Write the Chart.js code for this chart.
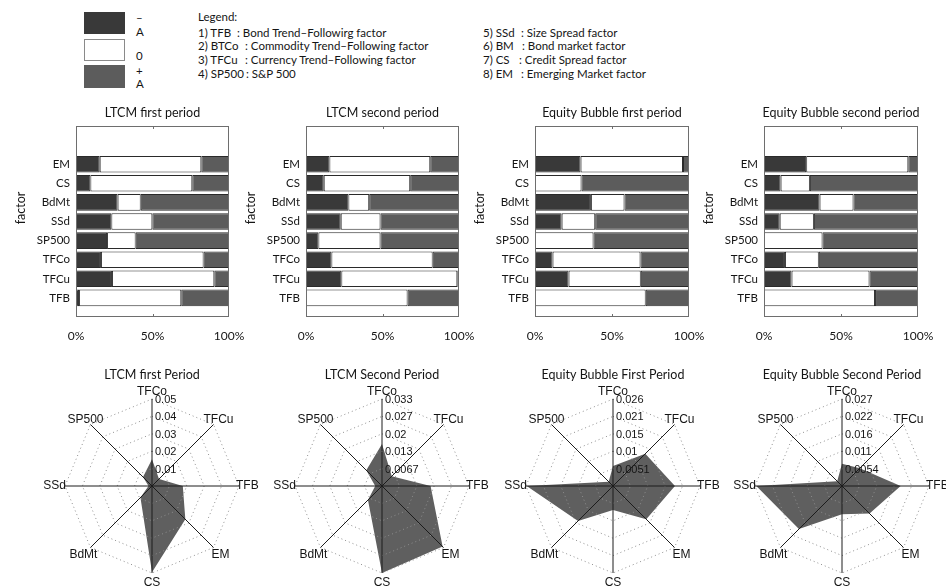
<!DOCTYPE html>
<html>
<head>
<meta charset="utf-8">
<script src="https://cdn.jsdelivr.net/npm/chart.js@4/dist/chart.umd.min.js"></script>
<style>
  html, body { margin: 0; padding: 0; background: #fff; overflow: hidden; }
  body { width: 946px; height: 587px; position: relative; font-family: Lato, sans-serif; color: #151515; }
  canvas { position: absolute; }
  .sw { position: absolute; box-sizing: border-box; left: 84px; width: 41px; }
  .t { position: absolute; font: 11.5px Lato, sans-serif; white-space: pre; line-height: 12px; transform: translateY(-50%); }
</style>
</head>
<body>
<div class="sw" style="top:12px;height:22px;background:#393939;"></div>
<div class="sw" style="top:39px;height:22px;background:#fff;border:1px solid #8a8a8a;"></div>
<div class="sw" style="top:65px;height:23px;background:#5c5c5c;"></div>
<div id="legend"></div>

<canvas id="bar0" width="254" height="250"></canvas>
<canvas id="bar1" width="254" height="250"></canvas>
<canvas id="bar2" width="255" height="250"></canvas>
<canvas id="bar3" width="255" height="250"></canvas>
<canvas id="radar0" width="230" height="227"></canvas>
<canvas id="radar1" width="230" height="227"></canvas>
<canvas id="radar2" width="230" height="227"></canvas>
<canvas id="radar3" width="230" height="227"></canvas>

<script>
// ---- factor key ----
const keyMarks = ['\u2013', 'A', '0', '+', 'A'];
const keyCodes = ['1) TFB', '2) BTCo', '3) TFCu', '4) SP500', '5) SSd', '6) BM', '7) CS', '8) EM'];
const keyTexts = [
  ': Bond Trend\u2013Followirg factor',
  ': Commodity Trend\u2013Following factor',
  ': Currency Trend\u2013Following factor',
  ': S&P 500',
  ': Size Spread factor',
  ': Bond market factor',
  ': Credit Spread factor',
  ': Emerging Market factor'
];

// ---- stacked bars: share of negative / zero / positive exposure (%) ----
const factors = ['TFB', 'TFCu', 'TFCo', 'SP500', 'SSd', 'BdMt', 'CS', 'EM'];
const barTitles = ['LTCM first period', 'LTCM second period', 'Equity Bubble first period', 'Equity Bubble second period'];
const percentTicks = ['0%', '50%', '100%'];

const ltcm1Neg  = [2.0, 23.5, 16.3, 20.3, 23.1, 27.2, 9.4, 15.5];
const ltcm1Zero = [66.8, 66.9, 67.1, 18.7, 26.8, 15.1, 66.6, 66.4];
const ltcm1Pos  = [31.2, 9.6, 16.6, 61.0, 50.1, 57.7, 24.0, 18.1];

const ltcm2Neg  = [0, 23.1, 16.6, 8.1, 22.7, 27.7, 11.6, 15.3];
const ltcm2Zero = [66.4, 75.8, 66.2, 40.6, 26.0, 13.6, 56.5, 65.9];
const ltcm2Pos  = [33.6, 1.1, 17.2, 51.3, 51.3, 58.7, 31.9, 18.8];

const bubble1Neg  = [0, 21.8, 11.4, 0, 17.3, 36.3, 0, 29.6];
const bubble1Zero = [71.9, 46.9, 57.1, 38.0, 21.8, 21.8, 30.2, 66.5];
const bubble1Pos  = [28.1, 31.3, 31.5, 62.0, 60.9, 41.9, 69.8, 3.9];

const bubble2Neg  = [0, 17.9, 13.6, 0, 10.2, 36.1, 10.8, 27.4];
const bubble2Zero = [72.1, 50.6, 22.0, 38.0, 22.2, 22.0, 19.0, 66.3];
const bubble2Pos  = [27.9, 31.5, 64.4, 62.0, 67.6, 41.9, 70.2, 6.3];

// ---- radar: factor exposure magnitude ----
const radarFactors = ['TFCo', 'TFCu', 'TFB', 'EM', 'CS', 'BdMt', 'SSd', 'SP500'];
const radarTitles = ['LTCM first Period', 'LTCM Second Period', 'Equity Bubble First Period', 'Equity Bubble Second Period'];
const ltcm1Exposure   = [0.0154, 0.0057, 0.0177, 0.0271, 0.0495, 0.0094, 0.0020, 0.0073];
const ltcm2Exposure   = [0.0161, 0.0053, 0.0186, 0.0328, 0.0333, 0.0076, 0.0026, 0.0085];
const bubble1Exposure = [0.0059, 0.0135, 0.0183, 0.0139, 0.0071, 0.0146, 0.0255, 0.0018];
const bubble2Exposure = [0.0069, 0.0078, 0.0182, 0.0121, 0.0088, 0.0189, 0.0266, 0.0021];
const radarMax = [0.05, 0.0333, 0.0257, 0.027];
const ltcm1Ticks   = ['0.01', '0.02', '0.03', '0.04', '0.05'];
const ltcm2Ticks   = ['0.0067', '0.013', '0.02', '0.027', '0.033'];
const bubble1Ticks = ['0.0051', '0.01', '0.015', '0.021', '0.026'];
const bubble2Ticks = ['0.0054', '0.011', '0.016', '0.022', '0.027'];

const DARK = '#393939', LIGHT = '#ffffff', MID = '#5c5c5c', EDGE = '#2a2a2a';
const TEXT = '#151515';

// ---- key block (HTML text) ----
(function buildKey() {
  const host = document.getElementById('legend');
  const add = (txt, x, y) => {
    const d = document.createElement('div');
    d.className = 't';
    d.textContent = txt;
    d.style.left = x + 'px';
    d.style.top = y + 'px';
    host.appendChild(d);
  };
  const markY = [18, 32, 56, 71, 84];
  keyMarks.forEach((m, i) => add(m, 136, markY[i]));
  add('Legend:', 198, 17);
  const rowY = [32.5, 46, 60, 73.5];
  const codeX = [198, 198, 198, 198, 483, 483, 483, 483];
  const colonX = [237, 245, 245, 246, 521, 522, 519, 521];
  keyCodes.forEach((c, i) => {
    add(c, codeX[i], rowY[i % 4]);
    add(keyTexts[i], colonX[i], rowY[i % 4]);
  });
})();

// ---- stacked bar panels ----
const barFrame = {
  id: 'barFrame',
  afterDraw(chart, args, opts) {
    const { ctx, chartArea: a } = chart;
    const x = chart.scales.x;
    ctx.save();
    ctx.strokeStyle = '#6e6e6e';
    ctx.lineWidth = 1;
    ctx.strokeRect(Math.round(a.left) + 0.5, Math.round(a.top) + 0.5, Math.round(a.width) - 1, Math.round(a.height) - 1);
    const xm = Math.round(x.getPixelForValue(50)) + 0.5;
    ctx.beginPath();
    ctx.moveTo(xm, a.top); ctx.lineTo(xm, a.top + 3);
    ctx.moveTo(xm, a.bottom); ctx.lineTo(xm, a.bottom - 3);
    ctx.stroke();
    ctx.fillStyle = TEXT;
    ctx.textAlign = 'center';
    ctx.textBaseline = 'middle';
    ctx.font = '12.5px Lato';
    ctx.fillText(opts.title, (a.left + a.right) / 2, a.top - 13);
    ctx.translate(a.left - 55, a.top + 82);
    ctx.rotate(-Math.PI / 2);
    ctx.font = '12.5px Lato';
    ctx.fillText('factor', 0, 0);
    ctx.restore();
  }
};

const barPanels = [
  { id: 'bar0', left: 76, plotW: 153, neg: ltcm1Neg, zero: ltcm1Zero, pos: ltcm1Pos },
  { id: 'bar1', left: 306, plotW: 153, neg: ltcm2Neg, zero: ltcm2Zero, pos: ltcm2Pos },
  { id: 'bar2', left: 535, plotW: 154, neg: bubble1Neg, zero: bubble1Zero, pos: bubble1Pos },
  { id: 'bar3', left: 764, plotW: 154, neg: bubble2Neg, zero: bubble2Zero, pos: bubble2Pos }
];

const slotLabels = ['', ...factors, '', ''];
const padSeries = (arr) => [null, ...arr, null, null];

barPanels.forEach((p, k) => {
  const cv = document.getElementById(p.id);
  cv.style.left = (p.left - 76) + 'px';
  cv.style.top = '95px';
  const seg = (data, color) => ({
    data: padSeries(data),
    backgroundColor: color,
    borderColor: EDGE,
    borderWidth: 1,
    borderSkipped: false,
    barPercentage: 0.87,
    categoryPercentage: 1
  });
  new Chart(cv, {
    type: 'bar',
    data: {
      labels: slotLabels,
      datasets: [seg(p.neg, DARK), seg(p.zero, LIGHT), seg(p.pos, MID)]
    },
    options: {
      indexAxis: 'y',
      responsive: false,
      animation: false,
      layout: { padding: { left: 0, top: 31, right: 25, bottom: 0 } },
      plugins: {
        legend: { display: false },
        tooltip: { enabled: false },
        barFrame: { title: barTitles[k] }
      },
      scales: {
        x: {
          type: 'linear', stacked: true, min: 0, max: 100,
          grid: { display: false }, border: { display: false },
          ticks: {
            stepSize: 50, padding: 4, color: TEXT, font: { family: 'Lato', size: 12 },
            callback: (v) => percentTicks[v / 50]
          },
          afterFit: (s) => { s.height = 28; }
        },
        y: {
          type: 'category', stacked: true, reverse: true, offset: false,
          grid: { display: false, drawTicks: false }, border: { display: false },
          ticks: { autoSkip: false, padding: 6, color: TEXT, font: { family: 'Lato', size: 11.5 } },
          afterFit: (s) => { s.width = 76; }
        }
      }
    },
    plugins: [barFrame]
  });
});

// ---- radar panels ----
const radarDecor = {
  id: 'radarDecor',
  afterDraw(chart, args, opts) {
    const r = chart.scales.r;
    const ctx = chart.ctx;
    const R = r.drawingArea;
    ctx.save();
    ctx.fillStyle = TEXT;
    ctx.textBaseline = 'middle';
    // ring values beside the upper axis
    ctx.font = '11px "Liberation Sans", Arial, sans-serif';
    ctx.textAlign = 'left';
    r.ticks.forEach((t, i) => {
      if (i === 0) return;
      const d = r.getDistanceFromCenterForValue(t.value);
      ctx.fillText(opts.ticks[i - 1], r.xCenter + 3, r.yCenter - d + 1);
    });
    // factor names at the spoke ends
    ctx.font = '12px "Liberation Sans", Arial, sans-serif';
    chart.data.labels.forEach((lab, i) => {
      if (i === 2) {
        const pt = r.getPointPosition(i, R - 3);
        ctx.textAlign = 'left';
        ctx.fillText(lab, pt.x, pt.y);
      } else if (i === 6) {
        const pt = r.getPointPosition(i, R - 1);
        ctx.textAlign = 'right';
        ctx.fillText(lab, pt.x, pt.y);
      } else {
        const extra = (i >= 3 && i <= 5) ? 10 : 7;
        const pt = r.getPointPosition(i, R + extra);
        ctx.textAlign = 'center';
        ctx.fillText(lab, pt.x, pt.y);
      }
    });
    ctx.font = '12.5px Lato';
    ctx.textAlign = 'center';
    ctx.fillText(opts.title, r.xCenter, r.yCenter - 111);
    ctx.restore();
  }
};

const radarPanels = [
  { id: 'radar0', cx: 152, values: ltcm1Exposure, ticks: ltcm1Ticks },
  { id: 'radar1', cx: 382, values: ltcm2Exposure, ticks: ltcm2Ticks },
  { id: 'radar2', cx: 613, values: bubble1Exposure, ticks: bubble1Ticks },
  { id: 'radar3', cx: 842, values: bubble2Exposure, ticks: bubble2Ticks }
];

radarPanels.forEach((p, k) => {
  const cv = document.getElementById(p.id);
  cv.style.left = (p.cx - 115) + 'px';
  cv.style.top = '360px';
  new Chart(cv, {
    type: 'radar',
    data: {
      labels: radarFactors,
      datasets: [{
        data: p.values,
        backgroundColor: '#5f5f5f',
        borderWidth: 0,
        pointRadius: 0,
        fill: true,
        tension: 0
      }]
    },
    options: {
      responsive: false,
      animation: false,
      layout: { padding: { left: 28, right: 28, top: 39, bottom: 14 } },
      plugins: {
        legend: { display: false },
        tooltip: { enabled: false },
        radarDecor: { title: radarTitles[k], ticks: p.ticks }
      },
      scales: {
        r: {
          min: 0, max: radarMax[k],
          ticks: { display: false, count: 6 },
          pointLabels: { display: false },
          grid: { circular: false, color: '#8f8f8f', lineWidth: 1, z: 1 },
          border: { dash: [1, 3] },
          angleLines: { display: true, color: '#1c1c1c', lineWidth: 1 }
        }
      }
    },
    plugins: [radarDecor]
  });
});
</script>
</body>
</html>
